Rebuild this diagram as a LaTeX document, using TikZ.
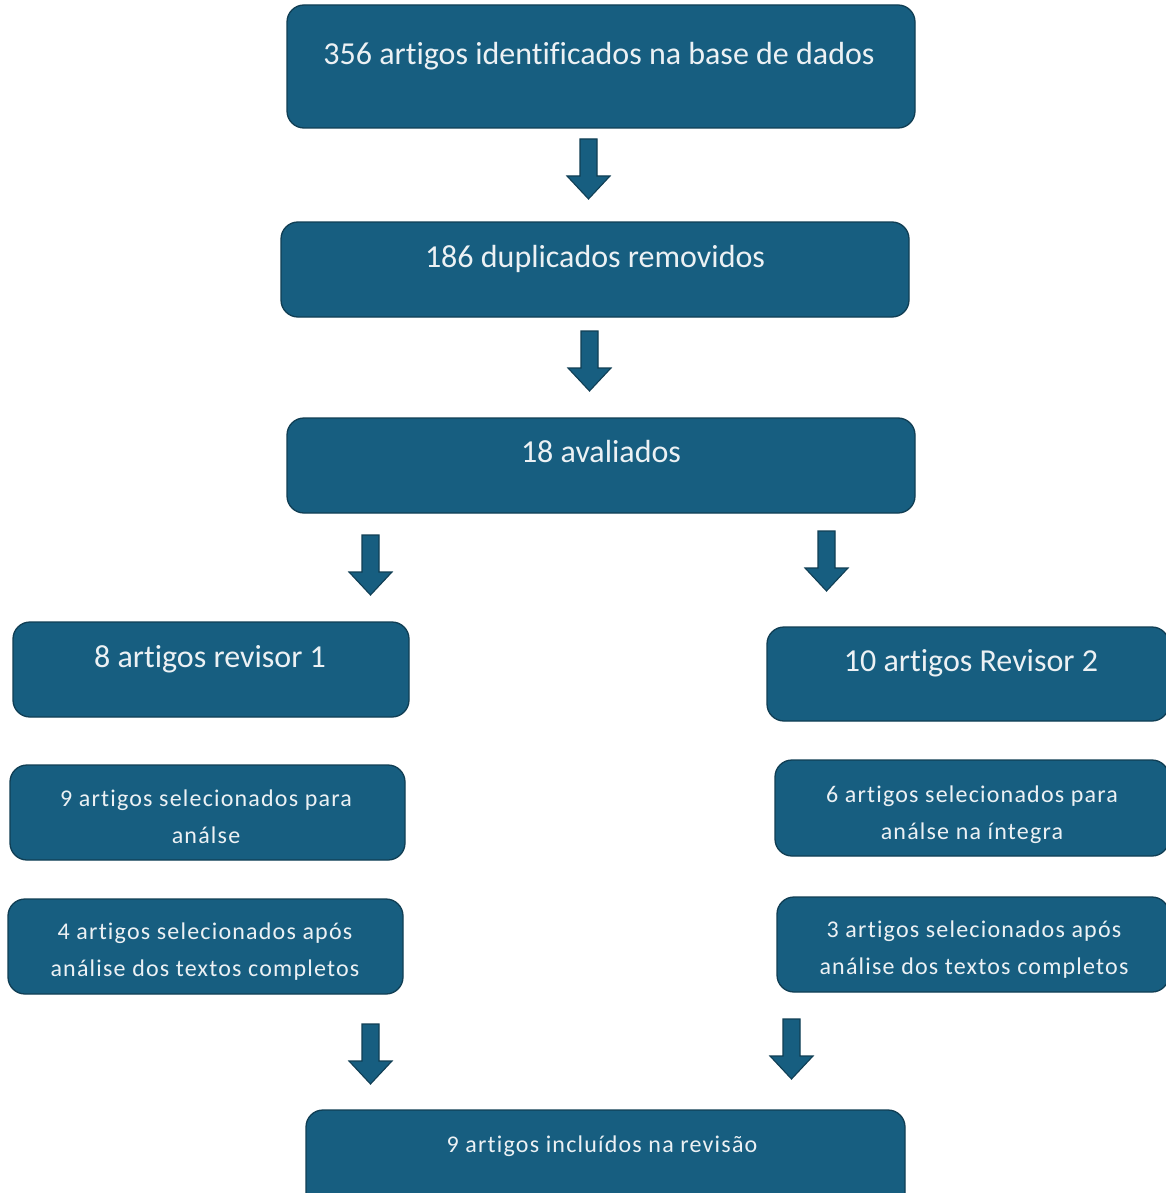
\documentclass[tikz,border=0pt]{standalone}
\usepackage{fontspec}
\setmainfont[Ligatures=NoCommon]{Carlito}
\newfontfamily\smallfont[LetterSpace=5,Ligatures=NoCommon]{Carlito}
\usetikzlibrary{calc}
\definecolor{boxfill}{RGB}{23,94,128}
\definecolor{boxline}{RGB}{16,62,84}
\definecolor{boxtext}{RGB}{236,241,244}
\tikzset{
  flowbox/.style={draw=boxline, line width=1.3pt, fill=boxfill, rounded corners=17pt, inner sep=0pt},
  bigtxt/.style={text=boxtext, font=\fontsize{32}{36}\selectfont, anchor=base, inner sep=0pt},
  smalltxt/.style={text=boxtext, font=\smallfont\fontsize{24}{37}\selectfont, anchor=base, inner sep=0pt, align=center},
  blockarrow/.style={draw=boxline, line width=1.1pt, fill=boxfill, line join=miter}
}
% block arrow pointing down: #1 = name, #2 = centre x, #3 = top y
\newcommand\downarrowblock[3]{%
  \coordinate (#1) at (#2,#3);
  \draw[blockarrow] ($(#1)+(-8.5,0)$) -- ($(#1)+(8.5,0)$) -- ($(#1)+(8.5,37)$) -- ($(#1)+(21.5,37)$)
    -- ($(#1)+(0,60)$) -- ($(#1)+(-21.5,37)$) -- ($(#1)+(-8.5,37)$) -- cycle;}
\begin{document}
\begin{tikzpicture}[x=1pt,y=-1pt]
\useasboundingbox (0,0) rectangle (1166,1193);
\fill[white] (0,0) rectangle (1166,1193);

% boxes
\node[flowbox, minimum width=628pt, minimum height=123pt] (b1) at (601,66.5) {};
\node[bigtxt] (t1) at (599,65) {356 artigos identificados na base de dados};

\node[flowbox, minimum width=628pt, minimum height=95pt] (b2) at (595,269.5) {};
\node[bigtxt] (t2) at (595,267) {186 duplicados removidos};

\node[flowbox, minimum width=628pt, minimum height=95pt] (b3) at (601,465.5) {};
\node[bigtxt] (t3) at (601,462) {18 avaliados};

\node[flowbox, minimum width=396pt, minimum height=95pt] (r1) at (211,669.5) {};
\node[bigtxt] (tr1) at (210,667) {8 artigos revisor 1};

\node[flowbox, minimum width=402pt, minimum height=94pt] (r2) at (968,674) {};
\node[bigtxt] (tr2) at (971,671) {10 artigos Revisor 2};

\node[flowbox, minimum width=395pt, minimum height=95pt] (l2) at (207.5,812.5) {};
\node[smalltxt] (tl2) at (206,843) {9 artigos selecionados para\\análse};

\node[flowbox, minimum width=394pt, minimum height=96pt] (rr2) at (972,808) {};
\node[smalltxt] (trr2) at (972,839) {6 artigos selecionados para\\análse na íntegra};

\node[flowbox, minimum width=395pt, minimum height=95pt] (l3) at (205.5,946.5) {};
\node[smalltxt] (tl3) at (205,976) {4 artigos selecionados após\\análise dos textos completos};

\node[flowbox, minimum width=392pt, minimum height=95pt] (rr3) at (973,944.5) {};
\node[smalltxt] (trr3) at (974,974) {3 artigos selecionados após\\análise dos textos completos};

\node[flowbox, minimum width=599pt, minimum height=110pt] (b4) at (605.5,1165) {};
\node[smalltxt] (t4) at (602,1152) {9 artigos incluídos na revisão};

% block arrows
\downarrowblock{a1}{588.5}{139}
\downarrowblock{a2}{589.5}{331}
\downarrowblock{a3}{370.5}{535}
\downarrowblock{a4}{826.5}{531}
\downarrowblock{a5}{370.5}{1024}
\downarrowblock{a6}{791.5}{1019}
\end{tikzpicture}
\end{document}
